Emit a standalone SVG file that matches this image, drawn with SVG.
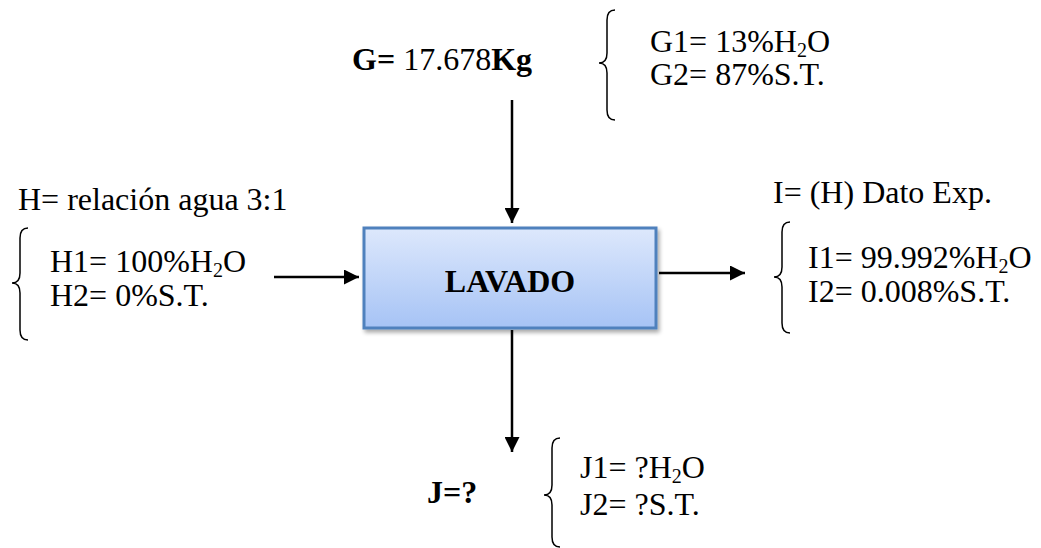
<svg xmlns="http://www.w3.org/2000/svg" width="1041" height="548" viewBox="0 0 1041 548">
  <style>
    .t { font-family: "Liberation Serif", "Times New Roman", serif; font-size: 32px; fill: #000; }
    .b { font-weight: bold; }
    .sub { font-size: 20px; }
    .brace { fill: none; stroke: #000; stroke-width: 1.5; }
    .flow { stroke: #000; stroke-width: 2.5; fill: none; marker-end: url(#arrow); }
  </style>
  <defs>
    <marker id="arrow" viewBox="0 0 15 15" refX="15" refY="7.5" markerWidth="15" markerHeight="15" markerUnits="userSpaceOnUse" orient="auto">
      <path d="M0,0 L15,7.5 L0,15 Z" fill="#000"/>
    </marker>
    <linearGradient id="boxFill" x1="0" y1="0" x2="0" y2="1">
      <stop offset="0" stop-color="#dde8fc"/>
      <stop offset="1" stop-color="#a6c3f5"/>
    </linearGradient>
    <filter id="shadow" x="-10%" y="-10%" width="130%" height="140%">
      <feGaussianBlur in="SourceAlpha" stdDeviation="2"/>
      <feOffset dx="2" dy="3" result="off"/>
      <feComponentTransfer><feFuncA type="linear" slope="0.35"/></feComponentTransfer>
      <feMerge><feMergeNode/><feMergeNode in="SourceGraphic"/></feMerge>
    </filter>
  </defs>

  <!-- process unit -->
  <g id="lavado">
    <rect x="364" y="228" width="292" height="100" fill="url(#boxFill)" stroke="#4f81bd" stroke-width="3" filter="url(#shadow)"/>
    <text class="t b" x="510" y="292" text-anchor="middle">LAVADO</text>
  </g>

  <!-- stream G: feed -->
  <g id="stream-g">
    <text class="t" x="352" y="70"><tspan class="b">G=</tspan> 17.678<tspan class="b">Kg</tspan></text>
    <path class="brace" d="M615,10 Q607,10 607,20 L607,53 Q607,63 599,63 Q607,63 607,73 L607,110 Q607,120 615,120"/>
    <text class="t" x="650" y="52">G1= 13%H<tspan class="sub" dy="5">2</tspan><tspan dy="-5">O</tspan></text>
    <text class="t" x="650" y="85">G2= 87%S.T.</text>
  </g>

  <!-- stream H: wash water -->
  <g id="stream-h">
    <text class="t" x="18" y="210">H= relación agua 3:1</text>
    <path class="brace" d="M28,228 Q20,228 20,238 L20,273 Q20,283 12,283 Q20,283 20,293 L20,330 Q20,340 28,340"/>
    <text class="t" x="50" y="272">H1= 100%H<tspan class="sub" dy="5">2</tspan><tspan dy="-5">O</tspan></text>
    <text class="t" x="50" y="306">H2= 0%S.T.</text>
  </g>

  <!-- stream I: outlet water -->
  <g id="stream-i">
    <text class="t" x="773" y="203">I= (H) Dato Exp.</text>
    <path class="brace" d="M790,222 Q782,222 782,232 L782,267 Q782,277 774,277 Q782,277 782,287 L782,323 Q782,333 790,333"/>
    <text class="t" x="808" y="268">I1= 99.992%H<tspan class="sub" dy="5">2</tspan><tspan dy="-5">O</tspan></text>
    <text class="t" x="808" y="302">I2= 0.008%S.T.</text>
  </g>

  <!-- stream J: washed product -->
  <g id="stream-j">
    <text class="t b" x="427" y="503">J=?</text>
    <path class="brace" d="M560,438 Q552,438 552,448 L552,485 Q552,495 544,495 Q552,495 552,505 L552,537 Q552,547 560,547"/>
    <text class="t" x="580" y="478">J1= ?H<tspan class="sub" dy="5">2</tspan><tspan dy="-5">O</tspan></text>
    <text class="t" x="580" y="515">J2= ?S.T.</text>
  </g>

  <!-- connectors -->
  <g id="connectors">
    <line class="flow" x1="512" y1="100" x2="512" y2="223"/>
    <line class="flow" x1="274" y1="277" x2="359" y2="277"/>
    <line class="flow" x1="659" y1="273" x2="745" y2="273"/>
    <line class="flow" x1="512" y1="330" x2="512" y2="452"/>
  </g>
</svg>
